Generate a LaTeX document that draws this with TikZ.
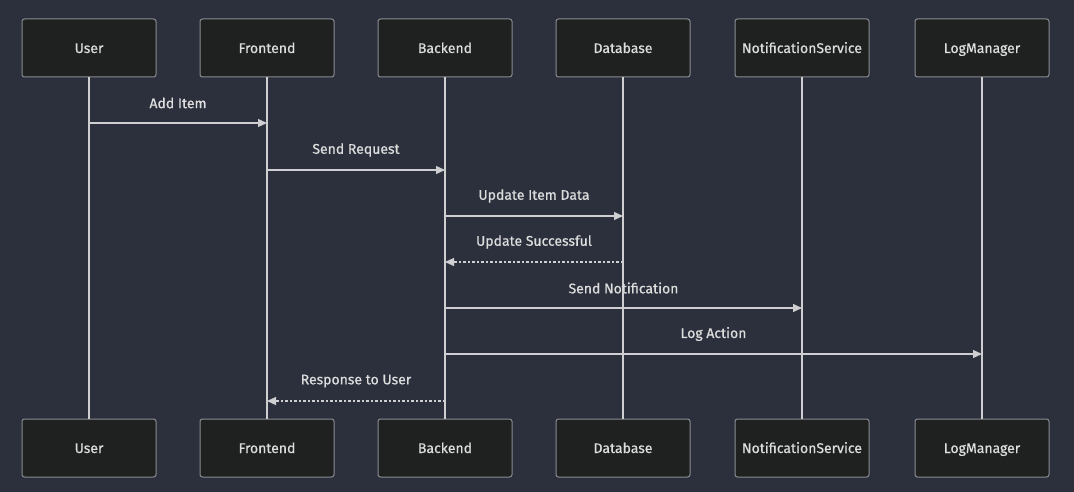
\documentclass[tikz,border=0pt]{standalone}
\usepackage{fontspec}
\setmainfont{Fira Sans}
\newfontfamily\diagfont{Fira Sans}[FakeBold=0.6]
\usetikzlibrary{arrows.meta}
\definecolor{bgcol}{HTML}{2B303C}
\definecolor{boxfill}{HTML}{1F2020}
\definecolor{boxline}{HTML}{8A8D91}
\definecolor{linecol}{HTML}{CFCFD2}
\definecolor{txtcol}{HTML}{DDDDDD}

\begin{document}
\begin{tikzpicture}[x=1pt,y=-1pt,
  actor/.style={draw=boxline,fill=boxfill,line width=1pt,rounded corners=2.5pt,
    minimum width=134pt,minimum height=58pt,text=txtcol,text height=13pt,text depth=3pt,
    font=\diagfont\fontsize{14}{16}\selectfont},
  life/.style={draw=linecol,line width=1.5pt},
  msg/.style={draw=linecol,line width=1.2pt,-{Triangle[length=9pt,width=8pt]}},
  reply/.style={msg,dash pattern=on 2.5pt off 2pt},
  lbl/.style={text=txtcol,font=\diagfont\fontsize{14}{16}\selectfont,yshift=20pt}]%<<<
\fill[bgcol] (0,0) rectangle (1074,492);
\foreach \n/\x/\t in {user/89/User,front/267/Frontend,back/445/Backend,
    db/623/Database,notif/802/NotificationService,logm/982/LogManager}{
  \node[actor] (\n) at (\x,48) {\t};
  \node[actor] (\n-end) at (\x,448) {\t};
  \draw[life] (\n) -- (\n-end);
}
\draw[msg] (user |- 0,123) -- node[lbl]{Add Item} (front |- 0,123);
\draw[msg] (front |- 0,170) -- node[lbl]{Send Request} (back |- 0,170);
\draw[msg] (back |- 0,216) -- node[lbl]{Update Item Data} (db |- 0,216);
\draw[reply] (db |- 0,262) -- node[lbl]{Update Successful} (back |- 0,262);
\draw[msg] (back |- 0,308) -- node[lbl]{Send Notification} (notif |- 0,308);
\draw[msg] (back |- 0,354) -- node[lbl]{Log Action} (logm |- 0,354);
\draw[reply] (back |- 0,401) -- node[lbl]{Response to User} (front |- 0,401);
\end{tikzpicture}
\end{document}
